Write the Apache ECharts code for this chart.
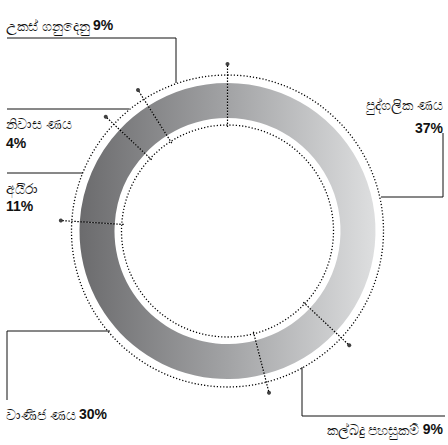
<!DOCTYPE html>
<html><head><meta charset="utf-8">
<script src="https://cdn.jsdelivr.net/npm/echarts@6/dist/echarts.min.js"></script>
<style>html,body{margin:0;padding:0;background:#fff}#c{width:448px;height:445px}</style>
</head><body><div id="c"></div>
<script>
// ---- data ----
const categories = ['උකස් ගනුදෙනු', 'නිවාස ණය', 'අයිරා', 'වාණිජ ණය', 'කල්බදු පහසුකම්', 'පුද්ගලික ණය'];
const shares = [9, 4, 11, 30, 9, 37];
const valueLabels = ['9%', '4%', '11%', '30%', '9%', '37%'];

// ---- layout / style ----
const CX = 227.5, CY = 231;
const SIN_FONT = "'Noto Sans', 'DejaVu Sans', sans-serif";
const NUM_FONT = "'Liberation Sans', Arial, sans-serif";
const labelLayouts = [
  {x: 6, y: 25, align: 'left', verticalAlign: 'middle', twoLine: false, lh: 18, line: [[7, 38], [176, 38], [176, 83]]},
  {x: 6, y: 113, align: 'left', verticalAlign: 'top', twoLine: true, lh: 20, line: [[7, 109], [129, 109]]},
  {x: 6, y: 179, align: 'left', verticalAlign: 'top', twoLine: true, lh: 18, line: [[7, 173], [83, 173]]},
  {x: 6, y: 414, align: 'left', verticalAlign: 'middle', twoLine: false, lh: 18, line: [[7, 400], [7, 331], [110, 331]]},
  {x: 443, y: 429, align: 'right', verticalAlign: 'middle', twoLine: false, lh: 18, line: [[302, 367], [302, 416], [445, 416]]},
  {x: 443, y: 92, align: 'right', verticalAlign: 'top', twoLine: true, lh: 24, line: [[443, 133], [443, 197], [381, 197]]}
];

const bandGradient = {
  type: 'linear', global: true, x: 79, y: 0, x2: 376, y2: 0,
  colorStops: [
    {offset: 0, color: '#6b6b6d'},
    {offset: 0.5, color: '#a2a3a5'},
    {offset: 1, color: '#dedfe0'}
  ]
};

const pieData = categories.map((name, i) => ({
  name: name,
  value: shares[i],
  label: {
    formatter: labelLayouts[i].twoLine ? '{n|' + name + '}\n{v|' + valueLabels[i] + '}'
                                        : '{n|' + name + '} {v|' + valueLabels[i] + '}',
    rich: {
      n: {fontFamily: SIN_FONT, fontSize: 14, color: '#111', lineHeight: labelLayouts[i].lh, align: labelLayouts[i].align},
      v: {fontFamily: NUM_FONT, fontSize: 14, fontWeight: 'bold', color: '#111', lineHeight: labelLayouts[i].lh, align: labelLayouts[i].align}
    }
  }
}));

// cumulative boundaries (percent)
const boundaries = [];
let acc = 0;
shares.forEach(s => { boundaries.push(acc); acc += s; });

const boundaryLines = boundaries.map(b => ({
  type: 'line', coordinateSystem: 'polar', silent: true, symbol: 'none',
  data: [[104, b], [167, b]],
  lineStyle: {color: '#000', width: 1.2, type: [1.5, 1.5]},
  z: 5
}));

const chart = echarts.init(document.getElementById('c'), null, {renderer: 'svg'});
chart.setOption({
  animation: false,
  backgroundColor: '#fff',
  polar: {center: [CX, CY], radius: 168},
  radiusAxis: {min: 0, max: 168, show: false},
  angleAxis: {min: 0, max: 100, startAngle: 90, clockwise: false, show: false},
  series: [
    {
      type: 'pie', center: [CX, CY], radius: [113, 148], startAngle: 90, clockwise: false,
      silent: true, avoidLabelOverlap: false,
      emphasis: {disabled: true},
      itemStyle: {color: bandGradient, borderWidth: 0},
      label: {show: true, position: 'outside'},
      labelLine: {show: true, smooth: false, length: 5, length2: 5, lineStyle: {color: '#111', width: 1}},
      labelLayout: function (params) {
        const L = labelLayouts[params.dataIndex];
        return {x: L.x, y: L.y, align: L.align, verticalAlign: L.verticalAlign, labelLinePoints: L.line};
      },
      data: pieData,
      z: 2
    },
    {
      type: 'pie', center: [CX, CY], radius: [106, 156], silent: true,
      emphasis: {disabled: true},
      label: {show: false}, labelLine: {show: false},
      itemStyle: {color: 'rgba(0,0,0,0)', borderColor: '#000', borderWidth: 1.3, borderType: [1.2, 2]},
      data: [{value: 1, name: 'ring'}],
      z: 4
    },
    ...boundaryLines,
    {
      type: 'scatter', coordinateSystem: 'polar', silent: true,
      symbol: 'circle', symbolSize: 4,
      itemStyle: {color: '#111'},
      data: boundaries.map(b => [167, b]),
      z: 6
    }
  ]
});
</script>
</body></html>
